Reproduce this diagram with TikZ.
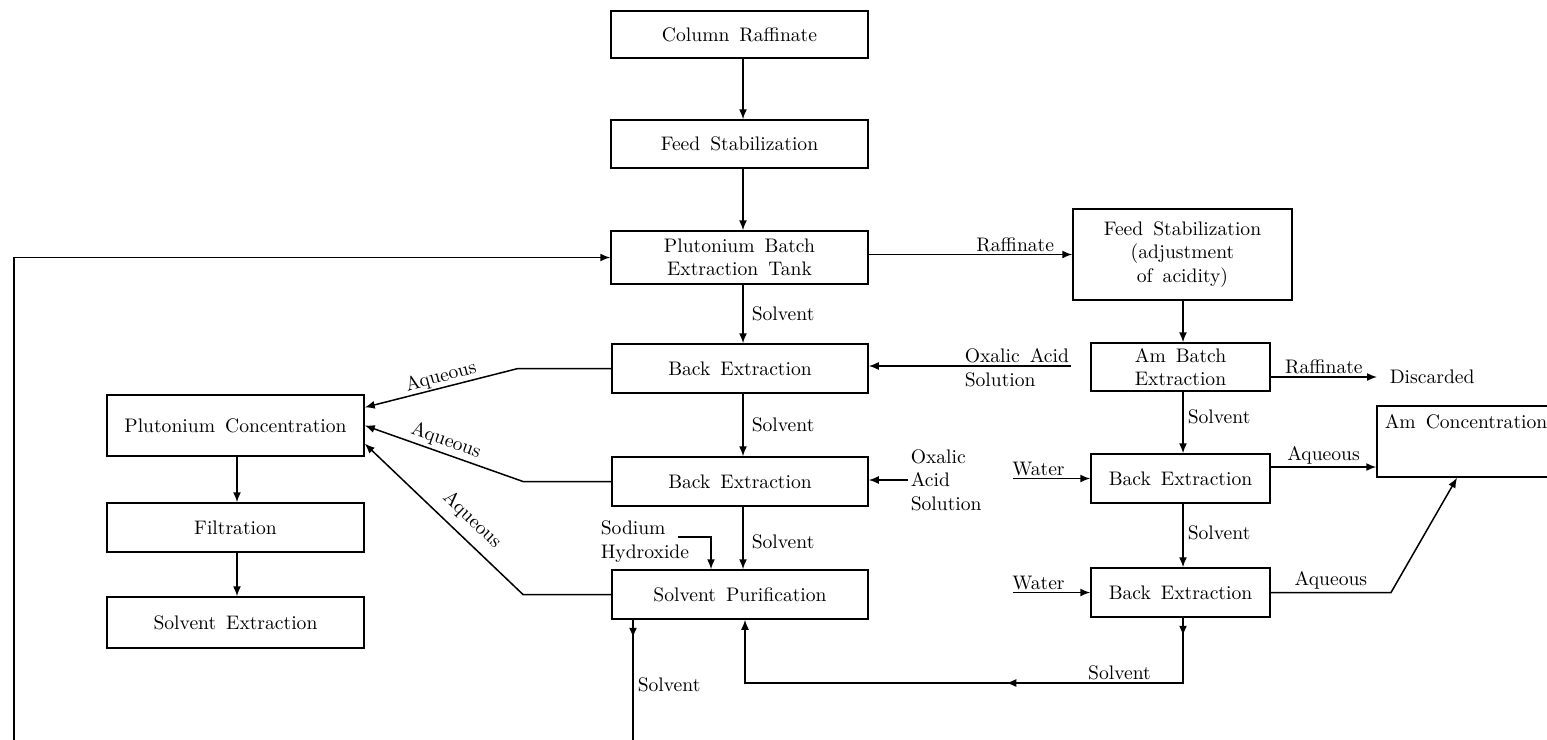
\documentclass[tikz,border=0pt]{standalone}
\usetikzlibrary{arrows.meta,calc,decorations.markings}
\newcommand\diagfont{\fontsize{9.8}{11.75}\selectfont\spaceskip=5pt plus 1pt minus 1pt\relax}
\begin{document}
\begin{tikzpicture}[x=0.5pt,y=-0.5pt, line width=0.75pt,
  mytip/.tip={Latex[length=5pt,width=4pt]},
  box/.style={draw, inner sep=0pt, align=center, font=\diagfont},
  lbl/.style={font=\diagfont, inner sep=1pt},
  arr/.style={-mytip},
  ]
\useasboundingbox (0,0) rectangle (1547,739);
% boxes
\node[box, minimum width=128.5pt, minimum height=23.5pt] (cr) at (739.5,34.5) {Column Raffinate};
\node[box, minimum width=128.5pt, minimum height=24pt] (fs) at (739.5,144) {Feed Stabilization};
\node[box, minimum width=128.5pt, minimum height=26.5pt] (pbet) at (739.5,257.5) {Plutonium Batch\\Extraction Tank};
\node[box, minimum width=109.5pt, minimum height=45.5pt] (fsr) at (1182.5,254.5) {Feed Stabilization\\(adjustment\\of acidity)};
\node[box, minimum width=128pt, minimum height=24.5pt] (be1) at (740,368.5) {Back Extraction};
\node[box, minimum width=128pt, minimum height=24.5pt] (be2) at (740,481.5) {Back Extraction};
\node[box, minimum width=128pt, minimum height=24.5pt] (sp) at (740,594.5) {Solvent Purification};
\node[box, minimum width=89.5pt, minimum height=24pt] (amb) at (1180.5,367) {Am Batch\\Extraction};
\node[box, minimum width=89.5pt, minimum height=24.5pt] (be3) at (1180.5,478.5) {Back Extraction};
\node[box, minimum width=89.5pt, minimum height=24.5pt] (be4) at (1180.5,592.5) {Back Extraction};
\node[box, minimum width=121.5pt, minimum height=35.5pt] (amc) at (1498.5,441.5) {};
\node[lbl, anchor=west] (amct) at (1382,422) {Am Concentration};
\node[box, minimum width=128.5pt, minimum height=30.5pt] (pc) at (235.5,425.5) {Plutonium Concentration};
\node[box, minimum width=128.5pt, minimum height=24.5pt] (fi) at (235.5,527.5) {Filtration};
\node[box, minimum width=128.5pt, minimum height=25.5pt] (se) at (235.5,622.5) {Solvent Extraction};
% helper coordinates
\coordinate (mx) at (743,0);
\coordinate (sx) at (1183,0);
\coordinate (px) at (237,0);
\coordinate (k1x) at (518,0);
\coordinate (k2x) at (523,0);
\coordinate (w1) at (1013,0);
\coordinate (aq3) at (0,467);
\coordinate (k4) at (1391,0);
\coordinate (amx) at (1457,0);
\coordinate (ry) at (0,683);
\coordinate (sx2) at (745,0);
\coordinate (sdx) at (633,0);
\coordinate (bot) at (0,745);
\coordinate (lb) at (14,745);
\coordinate (ox1) at (1071,366);
\coordinate (na) at (678,537);
\coordinate (nx) at (711,0);
% plutonium column
\draw[arr] (cr.south -| mx) -- (fs.north -| mx);
\draw[arr] (fs.south -| mx) -- (pbet.north -| mx);
\draw[arr] (pbet.south -| mx) -- node[lbl, right, xshift=3pt, pos=0.5]{Solvent} (be1.north -| mx);
\draw[arr] (be1.south -| mx) -- node[lbl, right, xshift=3pt, pos=0.5]{Solvent} (be2.north -| mx);
\draw[arr] (be2.south -| mx) -- node[lbl, right, xshift=3pt, pos=0.56]{Solvent} (sp.north -| mx);
\draw[arr] (lb) |- (pbet.west);
\draw[arr] (pbet.east |- fsr.west) -- node[lbl, above, pos=0.72]{Raffinate} (fsr.west);
% oxalic acid
\draw[arr] (ox1) -- (be1.east |- ox1);
\node[lbl, anchor=west, align=left] (ox1t) at (962,367.5) {Oxalic Acid\\Solution};
\node[lbl, anchor=west, align=left] (ox2) at (908,480) {Oxalic\\Acid\\Solution};
\draw[arr] (ox2.west) -- (be2.east |- ox2.west);
% sodium hydroxide
\node[lbl, anchor=west, align=left] (naoh) at (598,541.5) {Sodium\\Hydroxide};
\draw[arr] (na) -| (sp.north -| nx);
% aqueous to plutonium concentration
\draw[arr] (be1.west) -- (be1.west -| k1x) -- ($(pc.north east)!0.21!(pc.south east)$);
\draw[arr] (be2.west) -- (be2.west -| k2x) -- (pc.east);
\draw[arr] (sp.west) -- (sp.west -| k2x) -- ($(pc.north east)!0.79!(pc.south east)$);
\node[lbl, rotate=15] (aq1) at (441,377) {Aqueous};
\node[lbl, rotate=-19.4] (aq2) at (446,441) {Aqueous};
\node[lbl, rotate=-43.6] (aq3t) at (472,520) {Aqueous};
\draw[arr] (pc.south -| px) -- (fi.north -| px);
\draw[arr] (fi.south -| px) -- (se.north -| px);
% americium column
\draw[arr] (fsr.south -| sx) -- (amb.north -| sx);
\node[lbl, anchor=west, inner xsep=6pt] (disc) at (1377,377) {Discarded};
\draw[arr] (amb.east |- disc.west) -- node[lbl, above, pos=0.5]{Raffinate} (disc.west);
\draw[arr] (amb.south -| sx) -- node[lbl, right, xshift=1pt, pos=0.4]{Solvent} (be3.north -| sx);
\draw[arr] (be3.south -| sx) -- node[lbl, right, xshift=1pt, pos=0.45]{Solvent} (be4.north -| sx);
\draw[arr] (be3.west -| w1) -- node[lbl, above, pos=0.33]{Water} (be3.west);
\draw[arr] (be4.west -| w1) -- node[lbl, above, pos=0.33]{Water} (be4.west);
\draw[arr] (be3.east |- aq3) -- node[lbl, above]{Aqueous} (amc.west |- aq3);
\draw[arr] (be4.east) -- node[lbl, above]{Aqueous} (be4.east -| k4) -- (amc.south -| amx);
% solvent return
\draw[arr, postaction={decorate}, decoration={markings,
    mark=at position 9pt with {\arrow{mytip}},
    mark=at position 121pt with {\arrow{mytip}}}]
  (be4.south -| sx) -- (sx |- ry) -- node[lbl, above, pos=0.145]{Solvent} (sx2 |- ry) -- (sp.south -| sx2);
\draw[postaction={decorate}, decoration={markings,
    mark=at position 9pt with {\arrow{mytip}}}]
  (sp.south -| sdx) -- node[lbl, right, xshift=1pt, pos=0.52]{Solvent} (sdx |- bot);
\end{tikzpicture}
\end{document}
